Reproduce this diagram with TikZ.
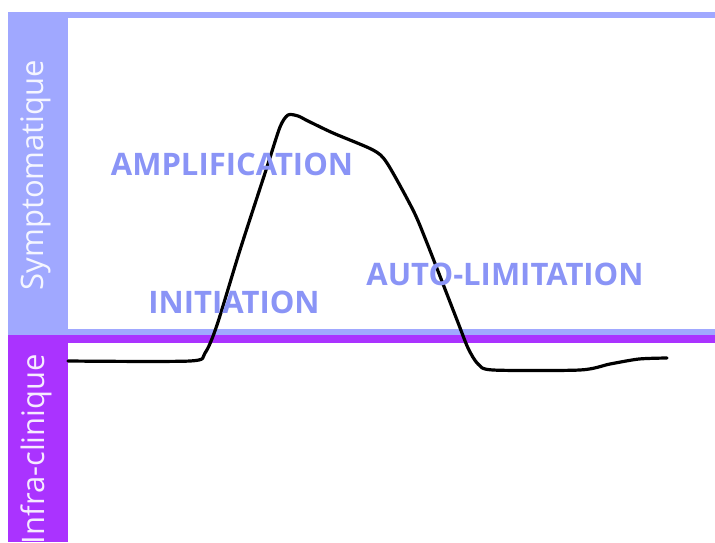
\documentclass[tikz,border=0pt]{standalone}
\usepackage{fontspec}
\setmainfont{Open Sans}
\usepackage{xcolor}
\usetikzlibrary{positioning}
\definecolor{symblue}{HTML}{A0A8FF}
\definecolor{infrapurple}{HTML}{AA33FF}
\definecolor{phaseblue}{HTML}{8A94F6}

\begin{document}
\begin{tikzpicture}[x=1pt,y=-1pt,
    phase/.style={text=phaseblue,font=\fontsize{31}{33}\selectfont\bfseries},
    bandlabel/.style={text=white,opacity=0.9,rotate=90,font=\fontsize{31}{33}\selectfont}]
      \useasboundingbox (0,0) rectangle (715,542);
      % bands
      \fill[symblue] (8,12) rectangle (715,18);
      \fill[symblue] (8,12) rectangle (68,335);
      \fill[symblue] (68,329) rectangle (715,335);
      \fill[infrapurple] (8,335) rectangle (715,343);
      \fill[infrapurple] (8,335) rectangle (68,542);
      \node[bandlabel] (sym) at (36,175) {Symptomatique};
      \node[bandlabel] (infra) at (36,449) {Infra-clinique};
      % curve
      \draw[line width=3.2pt,line join=round,line cap=round]
      plot[smooth,tension=0.45] coordinates {(68,361) (190,361) (205,353) (217,325)
      (240,250) (267,167) (280,127) (288,115) (298,116) (308,121) (333,133)
      (373,150) (387,163) (413,210) (427,243) (457,320) (468,348) (478,364)
      (493,370) (580,370) (610,364) (639,359) (667,358)};
      % phases
      \node[phase] (ampli) at (232,164) {AMPLIFICATION};
      \node[phase] (init) at (234,302) {INITIATION};
      \node[phase] (auto) at (505,274) {AUTO-LIMITATION};
    \end{tikzpicture}
\end{document}
